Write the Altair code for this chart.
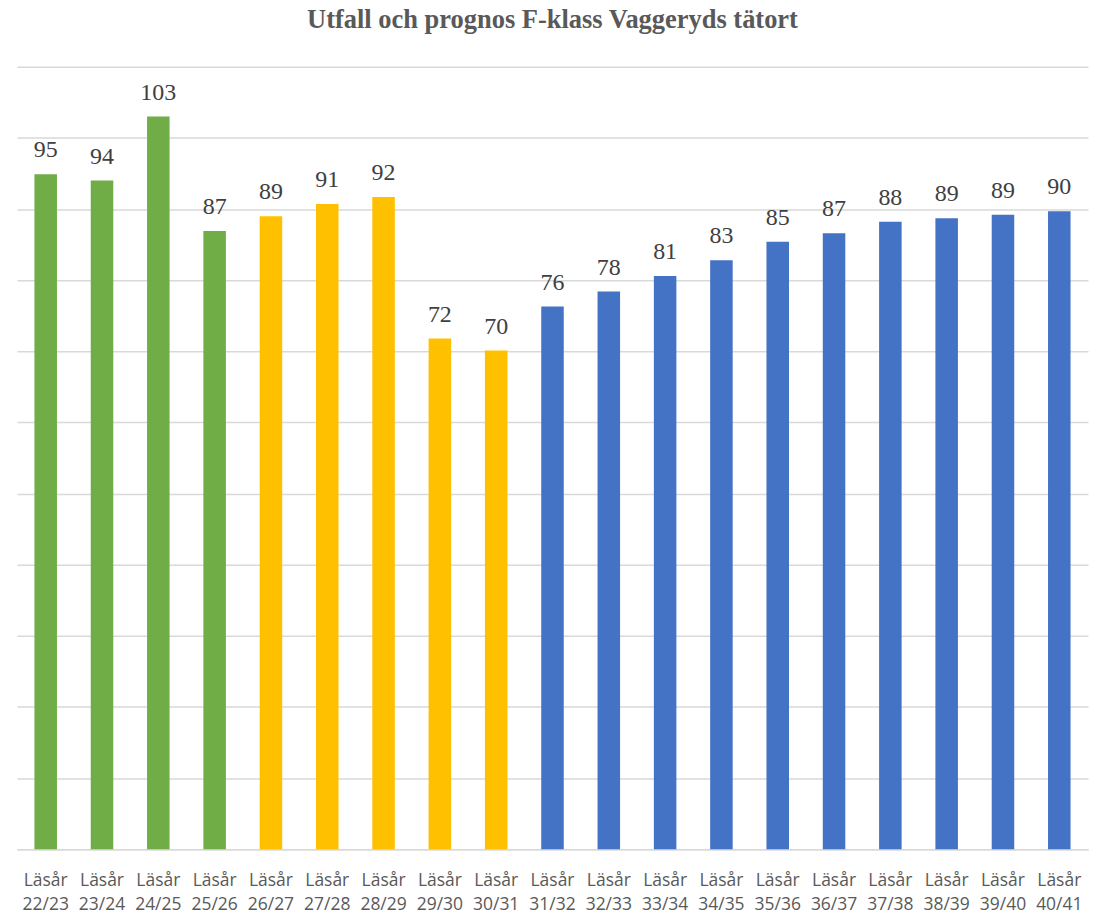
import altair as alt
import pandas as pd

categories = ["Läsår 22/23", "Läsår 23/24", "Läsår 24/25", "Läsår 25/26", "Läsår 26/27",
              "Läsår 27/28", "Läsår 28/29", "Läsår 29/30", "Läsår 30/31", "Läsår 31/32",
              "Läsår 32/33", "Läsår 33/34", "Läsår 34/35", "Läsår 35/36", "Läsår 36/37",
              "Läsår 37/38", "Läsår 38/39", "Läsår 39/40", "Läsår 40/41"]
values = [94.9, 94.0, 103.0, 86.9, 89.0, 90.7, 91.7, 71.8, 70.1, 76.3,
          78.4, 80.6, 82.8, 85.4, 86.6, 88.2, 88.7, 89.2, 89.7]
groups = ["g"] * 4 + ["y"] * 5 + ["b"] * 10
group_domain = ["g", "y", "b"]
group_colors = ["#70AD47", "#FFC000", "#4472C4"]

df = pd.DataFrame({"cat": categories, "val": values, "grp": groups})
df["lbl"] = df["val"].round(0).astype(int).astype(str)

x = alt.X("cat:N", sort=categories, title=None,
          scale=alt.Scale(paddingInner=0.6, paddingOuter=0.31),
          axis=alt.Axis(labelAngle=0, ticks=False, domainColor="#D9D9D9", domainWidth=1.5,
                        labelFont="Open Sans", labelFontSize=17.5, labelColor="#595959",
                        labelExpr="split(datum.label, ' ')", labelLineHeight=24,
                        labelPadding=22, grid=False))
y = alt.Y("val:Q", title=None,
          scale=alt.Scale(domain=[0, 110], nice=False),
          axis=alt.Axis(values=list(range(0, 111, 10)), labels=False, ticks=False, domain=False,
                        gridColor="#D9D9D9", gridWidth=1.5))

bars = alt.Chart(df).mark_bar().encode(
    x=x, y=y,
    color=alt.Color("grp:N", scale=alt.Scale(domain=group_domain, range=group_colors), legend=None),
)
text = alt.Chart(df).mark_text(font="Liberation Serif", fontSize=24, color="#404040",
                               baseline="alphabetic", dy=-17).encode(
    x=alt.X("cat:N", sort=categories), y="val:Q", text="lbl:N")

chart = (bars + text).properties(
    width=1073, height=784,
    title=alt.TitleParams("Utfall och prognos F-klass Vaggeryds tätort", font="Liberation Serif",
                          fontSize=26.5, fontWeight="bold", color="#595959", anchor="middle",
                          baseline="alphabetic", offset=12),
    autosize=alt.AutoSizeParams(type="none"),
    padding={"left": 9, "top": 58, "right": 3, "bottom": 72},
).configure_view(stroke=None)

chart.save("out.html", embed_options={"renderer": "svg", "actions": False})
